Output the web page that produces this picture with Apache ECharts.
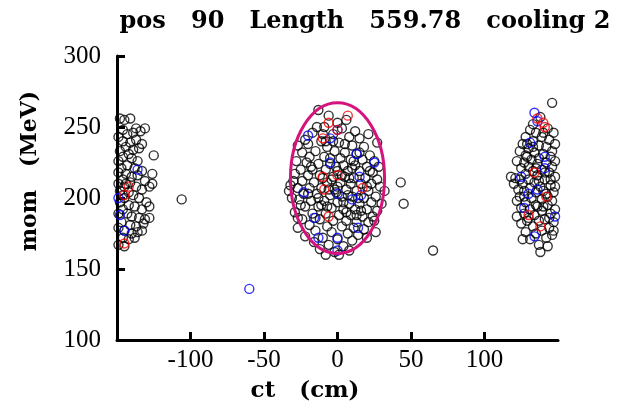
<!DOCTYPE html>
<html>
<head>
<meta charset="utf-8">
<script src="https://cdn.jsdelivr.net/npm/echarts@6/dist/echarts.min.js"></script>
<style>html,body{margin:0;padding:0;background:#fff}#c{width:620px;height:410px}</style>
</head>
<body>
<div id="c"></div>
<script>
// ---- data (ct in cm, mom in MeV) ----
var titleText = 'pos   90   Length   559.78   cooling 2';
var xName = 'ct   (cm)';
var yName = 'mom   (MeV)';
var xTicks = [-100, -50, 0, 50, 100];
var yTicks = [100, 150, 200, 250, 300];

var leftBlack = [[-148,256],[-145,255],[-141,256],[-137,249],[-134,247],[-131,249],[-146,248],[-143,245],[-149,243],[-146,240],[-141,239],[-137,241],[-133,238],[-144,236],[-139,234],[-135,235],[-148,233],[-142,231],[-146,229],[-140,228],[-136,226],[-125,230],[-149,226],[-143,223],[-147,221],[-138,221],[-133,219],[-149,218],[-144,217],[-140,215],[-136,216],[-146,213],[-141,211],[-131,212],[-128,208],[-149,210],[-145,208],[-137,208],[-133,206],[-148,205],[-142,204],[-139,202],[-145,200],[-135,200],[-130,197],[-148,197],[-142,195],[-138,194],[-133,192],[-146,192],[-149,189],[-143,189],[-140,187],[-135,186],[-131,185],[-128,186],[-147,183],[-141,181],[-137,180],[-132,182],[-149,179],[-145,177],[-140,175],[-136,176],[-146,172],[-142,171],[-138,172],[-149,167],[-145,166],[-106,199],[-133,177],[-144,210],[-139,246],[-146,202],[-126,217],[-126,210],[-128,194]];
var centerBlack = [[-13,262],[-6,258],[0,253],[6,255],[-9,250],[3,249],[12,247],[-17,246],[-3,245],[8,243],[15,242],[21,245],[-22,241],[-11,240],[1,239],[-27,237],[-7,236],[10,237],[18,236],[27,239],[-24,232],[-15,233],[-2,233],[5,232],[13,231],[22,230],[-19,229],[-9,229],[2,228],[9,227],[17,227],[25,226],[-28,226],[-21,225],[-13,224],[-5,224],[4,223],[12,223],[20,222],[-25,220],[-17,220],[-8,220],[0,219],[7,219],[15,219],[24,218],[-29,217],[-20,216],[-12,216],[-3,215],[5,215],[11,214],[19,214],[27,213],[-32,209],[-30,212],[-24,212],[-16,211],[-7,211],[2,211],[9,210],[16,210],[23,210],[29,208],[-27,207],[-19,207],[-11,207],[-2,206],[6,206],[13,205],[21,205],[-33,205],[-23,203],[-14,203],[-5,202],[3,201],[10,201],[18,200],[26,201],[-26,199],[-18,198],[-9,198],[0,197],[8,196],[15,196],[23,197],[30,196],[-22,194],[-13,194],[-4,193],[4,192],[12,192],[20,192],[27,191],[-29,190],[-17,189],[-8,189],[1,188],[9,188],[17,187],[24,187],[-24,185],[-12,185],[-3,184],[6,184],[13,183],[21,183],[-19,181],[-7,180],[3,180],[11,179],[18,178],[-27,179],[-15,177],[-4,176],[7,175],[14,174],[-22,173],[-10,172],[0,171],[10,170],[-16,169],[-6,167],[4,166],[-12,164],[-2,162],[8,163],[-8,160],[1,160],[43,211],[45,196],[65,163],[-10,245],[-14,250],[5,238],[-5,228],[8,214],[-1,204],[14,200],[-7,194],[16,191],[-15,186],[4,197],[-10,214],[11,226],[-20,203],[20,208],[25,184],[-25,195],[-1,222],[7,202],[-13,200],[13,188],[-6,206],[-18,222],[22,219],[-3,240],[0,208],[3,216],[-4,213],[10,221],[-11,195],[6,190],[-8,240],[15,232],[-20,238],[28,222],[32,205],[-31,200],[-27,186],[26,176],[20,172]];
var rightBlack = [[146,267],[138,257],[143,249],[131,248],[135,246],[147,246],[128,243],[139,243],[144,241],[133,240],[148,238],[126,238],[137,237],[142,236],[130,235],[146,233],[124,233],[134,232],[140,231],[128,230],[145,229],[137,228],[132,227],[148,226],[122,226],[127,225],[142,225],[136,224],[130,222],[146,222],[125,221],[139,220],[133,219],[118,215],[121,214],[124,213],[144,218],[128,217],[136,216],[148,215],[130,213],[141,213],[134,211],[126,210],[145,209],[138,208],[120,210],[131,207],[147,204],[127,205],[135,204],[142,203],[124,201],[132,200],[139,199],[146,198],[128,197],[143,195],[135,195],[125,193],[131,192],[148,192],[139,191],[145,189],[127,189],[134,188],[122,187],[141,185],[129,184],[137,184],[147,183],[125,182],[133,180],[144,179],[139,177],[128,176],[135,175],[146,174],[142,172],[131,171],[126,171],[137,167],[143,166],[138,162],[140,246],[133,252],[129,238],[145,213],[137,212],[140,205],[130,186],[143,201],[135,221],[141,218],[127,201],[148,208],[123,206],[133,236],[144,186],[136,194],[129,229],[147,177],[122,198],[140,194]];
var blackPts = leftBlack.concat(centerBlack, rightBlack);

var bluePts = [[-149,200],[-148,188],[-145,177],[-136,220],
  [-20,244],[-5,242],[0,248],[13,231],[25,225],[-5,225],[-23,204],[0,203],[10,199],[16,202],[15,215],[-16,186],[14,179],[0,172],[0,163],[-13,172],[-60,136],
  [134,260],[136,254],[131,239],[141,229],[141,221],[125,215],[130,203],[136,206],[127,193],[148,187],[134,173]];
var redPts = [[-142,208],[-145,202],[-145,168],
  [7,258],[-6,253],[-10,242],[0,248],[-9,206],[-6,187],[17,207],[-10,215],[0,216],
  [136,256],[140,253],[141,250],[134,218],[142,201],[130,188],[138,180]];

// ellipse: centre (ct, mom) and semi-axes (cm, MeV)
var ellipseCenter = [0, 214];
var ellipseRadii = [32, 53];

var serif = '"Liberation Serif", "DejaVu Serif", serif';
var boldSerif = '"DejaVu Serif", "Liberation Serif", serif';
var chart = echarts.init(document.getElementById('c'), null, {renderer: 'canvas'});

function ring(color) {
  return {color: 'rgba(0,0,0,0)', borderColor: color, borderWidth: 1.4};
}

chart.setOption({
  animation: false,
  backgroundColor: '#fff',
  grid: {left: 117, right: 62, top: 56, bottom: 70, containLabel: false},
  xAxis: {
    type: 'value', min: -150, max: 150, interval: 50,
    axisLine: {show: true, onZero: false, lineStyle: {color: '#000', width: 3}},
    axisTick: {show: true, inside: true, length: 8, customValues: xTicks, lineStyle: {color: '#000', width: 3}},
    axisLabel: {customValues: xTicks, color: '#000', fontFamily: serif, fontSize: 25, margin: 8},
    splitLine: {show: false}
  },
  yAxis: {
    type: 'value', min: 100, max: 300, interval: 50,
    axisLine: {show: true, onZero: false, lineStyle: {color: '#000', width: 3}},
    axisTick: {show: true, inside: true, length: 8, customValues: yTicks, lineStyle: {color: '#000', width: 3}},
    axisLabel: {customValues: yTicks, color: '#000', fontFamily: serif, fontSize: 25, margin: 16},
    splitLine: {show: false}
  },
  series: [
    {type: 'scatter', data: blackPts, symbol: 'circle', symbolSize: 9, itemStyle: ring('#000'), z: 2},
    {type: 'scatter', data: bluePts, symbol: 'circle', symbolSize: 9, itemStyle: ring('#0000ff'), z: 3},
    {type: 'scatter', data: redPts, symbol: 'circle', symbolSize: 9, itemStyle: ring('#ff0000'), z: 4},
    {
      type: 'custom', z: 5, clip: false,
      data: [[ellipseCenter[0], ellipseCenter[1], ellipseRadii[0], ellipseRadii[1]]],
      renderItem: function (params, api) {
        var c = api.coord([api.value(0), api.value(1)]);
        var s = api.size([api.value(2), api.value(3)]);
        return {
          type: 'ellipse',
          shape: {cx: c[0], cy: c[1], rx: s[0], ry: s[1]},
          style: {fill: 'none', stroke: '#d4137e', lineWidth: 3}
        };
      }
    }
  ],
  graphic: [
    {type: 'text', x: 365, y: 22, style: {text: titleText, align: 'center', verticalAlign: 'middle', font: 'bold 24px ' + boldSerif, fill: '#000'}},
    {type: 'text', rotation: Math.PI / 2, x: 30, y: 171, style: {text: yName, align: 'center', verticalAlign: 'middle', font: 'bold 22px ' + boldSerif, fill: '#000'}},
    {type: 'text', x: 305, y: 391, style: {text: xName, align: 'center', verticalAlign: 'middle', font: 'bold 23px ' + boldSerif, fill: '#000'}}
  ]
});
</script>
</body>
</html>
